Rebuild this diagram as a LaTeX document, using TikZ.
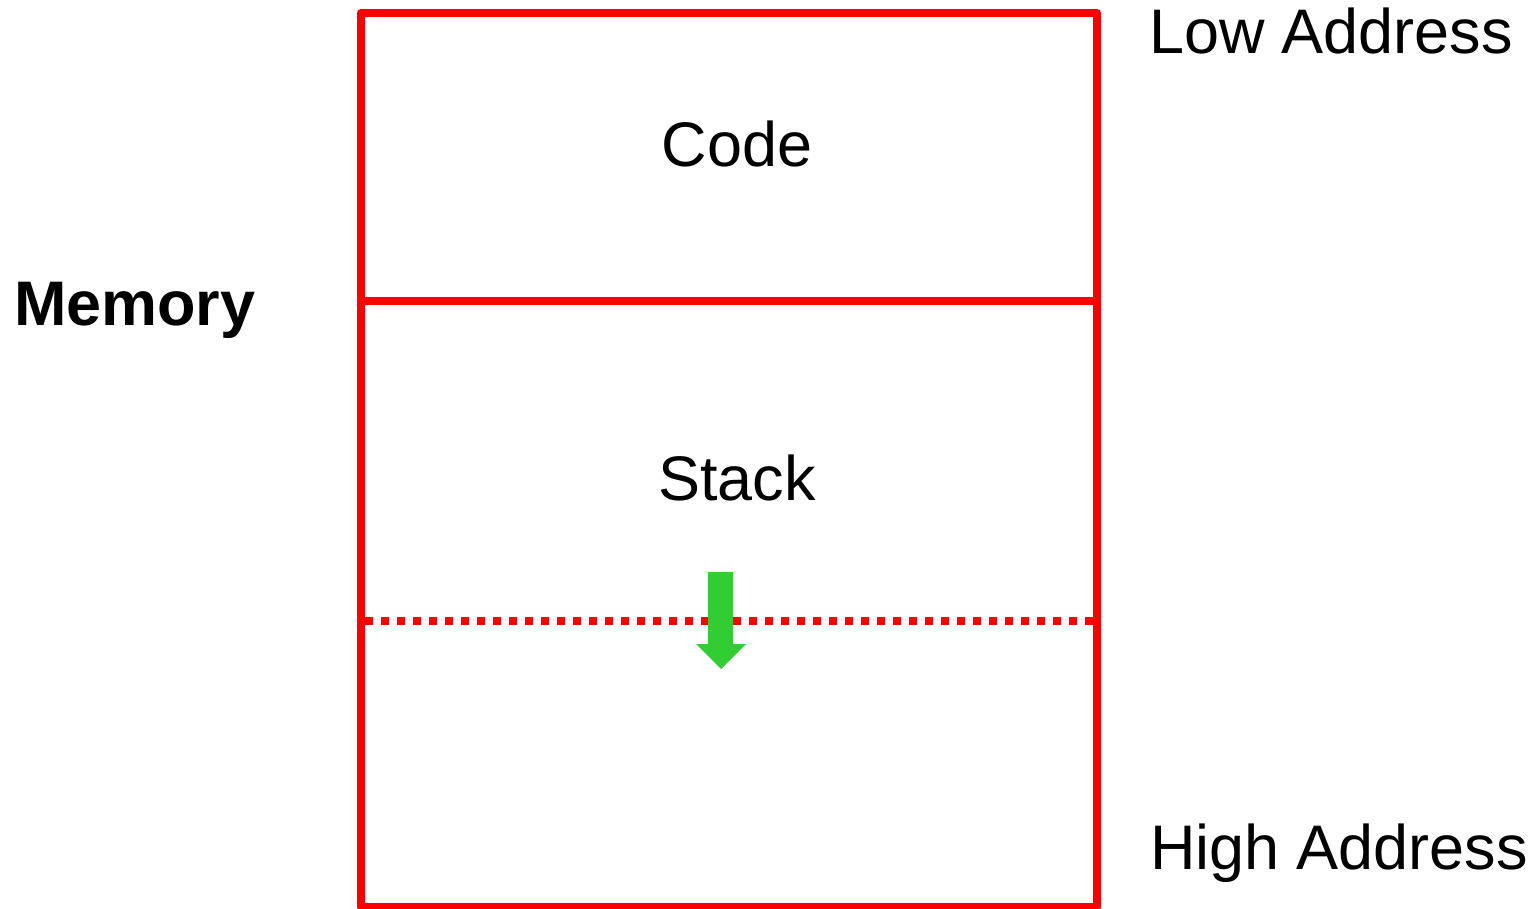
\documentclass[tikz,border=0pt]{standalone}
\usepackage{fontspec}
\setmainfont{Liberation Sans}
\usetikzlibrary{positioning}
\definecolor{memred}{RGB}{255,0,0}
\definecolor{growgreen}{RGB}{50,205,50}

\begin{document}
\begin{tikzpicture}[x=0.01cm, y=-0.01cm, line width=0.08cm,
  txt/.style={inner sep=0pt, font=\fontsize{17.9}{21}\selectfont}]
        \useasboundingbox (0,0) rectangle (1533,909);
        % memory block
        \coordinate (TL) at (361,13);
        \coordinate (BR) at (1097,907);
        \coordinate (ML) at (361,301);
        \coordinate (MR) at (1097,301);
        \coordinate (SL) at (365,621);
        \coordinate (SR) at (1093,621);
        \draw [memred, line join=round] (TL) rectangle (BR);
        \draw [memred] (ML) -- (MR);
        \draw [memred, dash pattern=on 0.08cm off 0.08cm] (SL) -- (SR);
        % growth arrow
        \fill [growgreen] (708,572) -- (733,572) -- (733,644) -- (746,644)
          -- (721,669) -- (696,644) -- (708,644) -- cycle;
        % labels
        \node [txt, anchor=base] (code) at (737,166) {Code};
        \node [txt, anchor=base] (stack) at (737,500) {Stack};
        \node [txt, anchor=base west, font=\fontsize{17.9}{21}\selectfont\bfseries] (mem) at (10,325) {Memory};
        \node [txt, anchor=base west] (low) at (1145,53) {Low Address};
        \node [txt, anchor=base west] (high) at (1146,869) {High Address};
    \end{tikzpicture}
\end{document}
